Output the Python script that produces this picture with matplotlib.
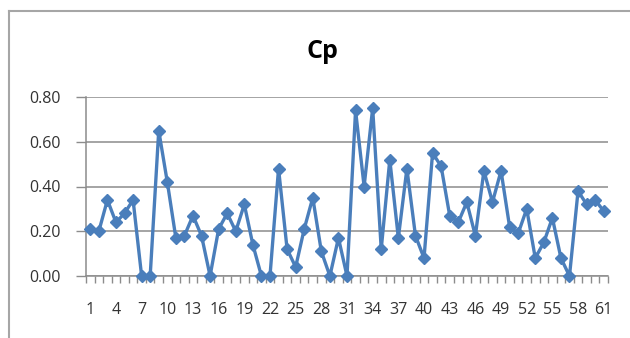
import matplotlib
matplotlib.use("Agg")
import matplotlib.pyplot as plt
from matplotlib.lines import Line2D
from matplotlib.ticker import FixedLocator, FuncFormatter

categories = list(range(1, 62))
cp_values = [0.21, 0.20, 0.34, 0.24, 0.28, 0.34, 0.00, 0.00, 0.65, 0.42,
             0.17, 0.18, 0.27, 0.18, 0.00, 0.21, 0.28, 0.20, 0.32, 0.14,
             0.00, 0.00, 0.48, 0.12, 0.04, 0.21, 0.35, 0.11, 0.00, 0.17,
             0.00, 0.74, 0.40, 0.75, 0.12, 0.52, 0.17, 0.48, 0.18, 0.08,
             0.55, 0.49, 0.27, 0.24, 0.33, 0.18, 0.47, 0.33, 0.47, 0.22,
             0.19, 0.30, 0.08, 0.15, 0.26, 0.08, 0.00, 0.38, 0.32, 0.34,
             0.29]
y_ticks = [0.0, 0.2, 0.4, 0.6, 0.8]
x_label_every = 3
title = "Cp"

plt.rcParams['font.family'] = ['Open Sans', 'DejaVu Sans']

W, H = 630, 338
fig = plt.figure(figsize=(W / 100, H / 100), dpi=100)
fig.patch.set_facecolor('white')

# outer chart frame (left and top edges visible)
fig.add_artist(Line2D([9 / W, 9 / W], [0, 1 - 11 / H], transform=fig.transFigure,
                      color='#a6a6a6', lw=1.5))
fig.add_artist(Line2D([9 / W, 1], [1 - 11 / H, 1 - 11 / H], transform=fig.transFigure,
                      color='#a6a6a6', lw=1.5))

left, right, top, bottom = 86, 608, 97, 276
ax = fig.add_axes([left / W, 1 - bottom / H, (right - left) / W, (bottom - top) / H])

grid_c = '#8c8c8c'
ax.plot(categories, cp_values, color='#4A7EBB', lw=2.4, marker='D', ms=6.5,
        mfc='#4A7EBB', mec='#4A7EBB', mew=1, clip_on=False, zorder=3)

ax.set_xlim(0.5, len(categories) + 0.5)
ax.set_ylim(0, 0.8)

ax.set_yticks(y_ticks)
ax.yaxis.set_major_formatter(FuncFormatter(lambda v, p: f"{v:.2f}"))
ax.yaxis.grid(True, color=grid_c, lw=1.1)
ax.set_axisbelow(True)

ax.xaxis.set_major_locator(FixedLocator(categories[::x_label_every]))
ax.xaxis.set_minor_locator(FixedLocator([c - 0.5 for c in categories] + [categories[-1] + 0.5]))
ax.tick_params(axis='x', which='major', length=0, pad=19, labelsize=11.5, labelcolor='#333333')
ax.tick_params(axis='x', which='minor', length=5, width=1, color=grid_c, direction='out')
ax.tick_params(axis='y', which='major', length=7, width=1, color=grid_c, direction='out',
               pad=11, labelsize=11.5, labelcolor='#333333')

for s in ['top', 'right']:
    ax.spines[s].set_visible(False)
for s in ['left', 'bottom']:
    ax.spines[s].set_color(grid_c)
    ax.spines[s].set_linewidth(1.1)

fig.text(322 / W, 1 - 52 / H, title, ha='center', va='center', fontsize=18,
         fontweight='bold', color='black')

fig.savefig('out.png', dpi=100, facecolor='white')
